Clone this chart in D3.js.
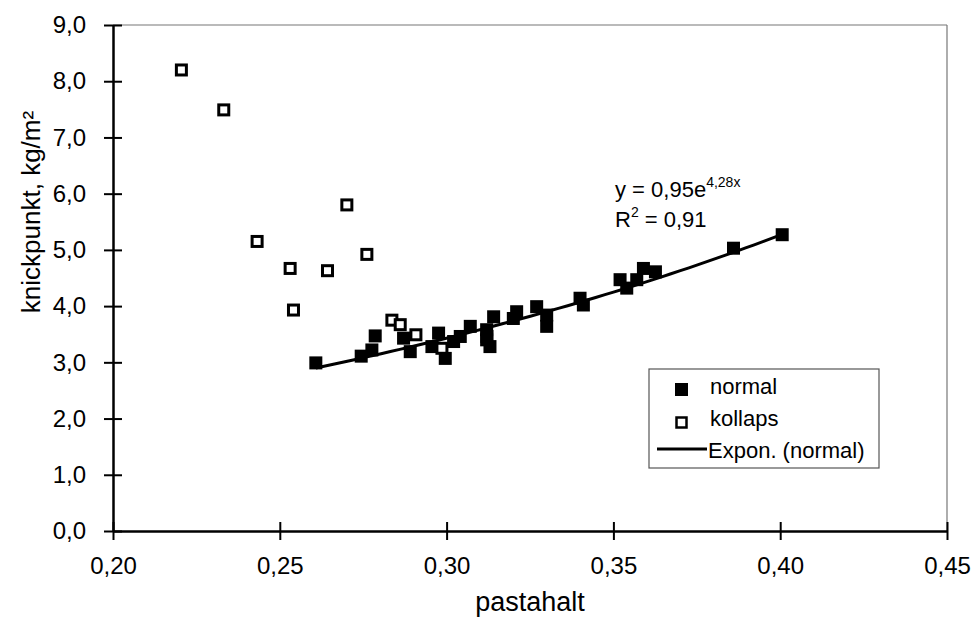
<!DOCTYPE html>
<html>
<head>
<meta charset="utf-8">
<script src="https://cdn.jsdelivr.net/npm/d3@7"></script>
<style>
  html, body { margin: 0; padding: 0; background: #fff; }
  svg { display: block; font-family: "Liberation Sans", Arial, sans-serif; }
</style>
</head>
<body>
<svg id="chart" width="974" height="625"></svg>
<script>
// ---- data ----
const xTicks = [0.20, 0.25, 0.30, 0.35, 0.40, 0.45];
const yTicks = [0, 1, 2, 3, 4, 5, 6, 7, 8, 9];

const normalX = [0.2608, 0.2744, 0.2776, 0.2786, 0.2871, 0.2891, 0.2956, 0.2976, 0.2996, 0.3021, 0.3041, 0.3071, 0.3121, 0.3130, 0.3141, 0.3120, 0.3120, 0.3200, 0.3210, 0.3270, 0.3300, 0.3300, 0.3400, 0.3410, 0.3520, 0.3540, 0.3570, 0.3590, 0.3626, 0.3860, 0.4006];
const normalY = [2.99, 3.11, 3.22, 3.47, 3.43, 3.19, 3.28, 3.52, 3.07, 3.37, 3.46, 3.64, 3.46, 3.28, 3.81, 3.58, 3.40, 3.78, 3.90, 3.99, 3.84, 3.64, 4.14, 4.02, 4.47, 4.32, 4.47, 4.67, 4.61, 5.03, 5.27];

const kollapsX = [0.2205, 0.2332, 0.2432, 0.2531, 0.2541, 0.2643, 0.2701, 0.2761, 0.2836, 0.2861, 0.2908, 0.2986];
const kollapsY = [8.20, 7.49, 5.15, 4.67, 3.93, 4.63, 5.80, 4.92, 3.75, 3.67, 3.49, 3.25];

// trendline: y = a * e^(b x)
const fitA = 0.95, fitB = 4.28;

const legendLabels = ["normal", "kollaps", "Expon. (normal)"];

// ---- layout ----
const svg = d3.select("#chart");
const pL = 113, pR = 947, pT = 25, pB = 531;
const x = d3.scaleLinear().domain([0.20, 0.45]).range([pL, pR]);
const y = d3.scaleLinear().domain([0, 9]).range([pB, pT]);
const fmt = d => d3.format(".2f")(d).replace(".", ",");
const fmtY = d => d3.format(".1f")(d).replace(".", ",");

// frame top/right (light)
svg.append("line").attr("x1", pL).attr("x2", pR).attr("y1", pT).attr("y2", pT)
  .attr("stroke", "#777").attr("stroke-width", 1.2);
svg.append("line").attr("x1", pR).attr("x2", pR).attr("y1", pT).attr("y2", pB)
  .attr("stroke", "#777").attr("stroke-width", 1.2);

// axes
const xAxis = svg.append("g").attr("transform", `translate(0,${pB})`)
  .call(d3.axisBottom(x).tickValues(xTicks).tickFormat(fmt).tickSizeInner(9).tickSizeOuter(0).tickPadding(17));
xAxis.selectAll(".tick line").attr("y1", -9).attr("y2", 9);
const yAxis = svg.append("g").attr("transform", `translate(${pL},0)`)
  .call(d3.axisLeft(y).tickValues(yTicks).tickFormat(fmtY).tickSizeInner(9).tickSizeOuter(0).tickPadding(18));
yAxis.selectAll(".tick line").attr("x1", -9).attr("x2", 9);
[xAxis, yAxis].forEach(g => {
  g.select(".domain").attr("stroke", "#000").attr("stroke-width", 2.5);
  g.selectAll(".tick line").attr("stroke", "#000").attr("stroke-width", 2);
  g.selectAll(".tick text").attr("fill", "#000").attr("font-size", 24)
    .attr("font-family", "'Liberation Sans', Arial, sans-serif");
});

// trendline
const xs = d3.range(d3.min(normalX), d3.max(normalX) + 1e-9, (d3.max(normalX) - d3.min(normalX)) / 50);
svg.append("path")
  .attr("d", d3.line().x(d => x(d)).y(d => y(fitA * Math.exp(fitB * d)))(xs))
  .attr("fill", "none").attr("stroke", "#000").attr("stroke-width", 3);

// markers
const ms = 13;
svg.append("g").selectAll("rect").data(normalX.map((d, i) => [d, normalY[i]])).join("rect")
  .attr("x", d => x(d[0]) - ms / 2).attr("y", d => y(d[1]) - ms / 2)
  .attr("width", ms).attr("height", ms).attr("fill", "#000");
svg.append("g").selectAll("rect").data(kollapsX.map((d, i) => [d, kollapsY[i]])).join("rect")
  .attr("x", d => x(d[0]) - ms / 2 + 1.5).attr("y", d => y(d[1]) - ms / 2 + 1.5)
  .attr("width", ms - 3).attr("height", ms - 3).attr("fill", "#fff")
  .attr("stroke", "#000").attr("stroke-width", 3);

// equation
const eq = svg.append("text").attr("x", 615).attr("y", 197).attr("font-size", 22).attr("fill", "#000");
eq.append("tspan").text("y = 0,95e");
eq.append("tspan").attr("font-size", 14).attr("dy", -10).text("4,28x");
const r2 = svg.append("text").attr("x", 615).attr("y", 227).attr("font-size", 22).attr("fill", "#000");
r2.append("tspan").text("R");
r2.append("tspan").attr("font-size", 14).attr("dy", -10).text("2");
r2.append("tspan").attr("dy", 10).text(" = 0,91");

// legend
const lg = svg.append("g");
lg.append("rect").attr("x", 649).attr("y", 369).attr("width", 230).attr("height", 99)
  .attr("fill", "#fff").attr("stroke", "#555").attr("stroke-width", 1.2);
lg.append("rect").attr("x", 675).attr("y", 383).attr("width", 13).attr("height", 13).attr("fill", "#000");
lg.append("rect").attr("x", 676.5).attr("y", 417.5).attr("width", 10).attr("height", 10)
  .attr("fill", "#fff").attr("stroke", "#000").attr("stroke-width", 2.5);
lg.append("line").attr("x1", 657).attr("x2", 707).attr("y1", 449).attr("y2", 449)
  .attr("stroke", "#000").attr("stroke-width", 3);
lg.selectAll("text.l").data(legendLabels).join("text").attr("class", "l")
  .attr("x", (d, i) => i === 2 ? 708 : 710).attr("y", (d, i) => 394 + i * 32)
  .attr("font-size", 22).attr("fill", "#000").text(d => d);

// axis titles
svg.append("text").attr("x", 530).attr("y", 611).attr("text-anchor", "middle")
  .attr("font-size", 27).attr("fill", "#000").text("pastahalt");
svg.append("text").attr("transform", `translate(40,212) rotate(-90)`)
  .attr("text-anchor", "middle").attr("font-size", 26).attr("fill", "#000").text("knickpunkt, kg/m²");
</script>
</body>
</html>
